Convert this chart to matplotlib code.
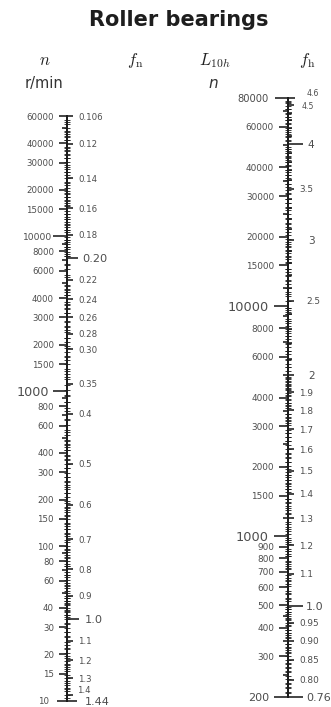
import matplotlib
matplotlib.use("Agg")
import matplotlib.pyplot as plt
import numpy as np

W, H, DPI = 331, 707, 100
PT = 72.0 / DPI  # points per pixel

# ---------------- data ----------------
title = "Roller bearings"

# left scale: speed n (r/min) and speed factor fn
n_range = (10, 60000)
fn_range = (1.44, 0.106)          # fn at bottom / top of the scale
n_ticks = [60000, 40000, 30000, 20000, 15000, 10000, 8000, 6000, 4000, 3000,
           2000, 1500, 1000, 800, 600, 400, 300, 200, 150, 100, 80, 60, 40,
           30, 20, 15, 10]
n_big = [10000, 1000]
n_mid = [50000, 9000, 7000, 5000, 900, 700, 500, 90, 70, 50]

fn_ticks = [0.106, 0.12, 0.14, 0.16, 0.18, 0.20, 0.22, 0.24, 0.26, 0.28, 0.30,
            0.35, 0.4, 0.5, 0.6, 0.7, 0.8, 0.9, 1.0, 1.1, 1.2, 1.3, 1.4, 1.44]
fn_labels = ["0.106", "0.12", "0.14", "0.16", "0.18", "0.20", "0.22", "0.24",
             "0.26", "0.28", "0.30", "0.35", "0.4", "0.5", "0.6", "0.7", "0.8",
             "0.9", "1.0", "1.1", "1.2", "1.3", "1.4", "1.44"]

# right scale: rating life L10h (h) and life factor fh
L_range = (200, 80000)
fh_range = (0.76, 4.6)
L_ticks = [80000, 60000, 40000, 30000, 20000, 15000, 10000, 8000, 6000, 4000,
           3000, 2000, 1500, 1000, 900, 800, 700, 600, 500, 400, 300, 200]
L_big = [10000, 1000]
L_mid = [70000, 50000, 35000, 25000, 12000, 9000, 7000, 5000, 3500, 2500,
         1200, 450, 350, 250]

fh_ticks = [4.6, 4.5, 4, 3.5, 3, 2.5, 2, 1.9, 1.8, 1.7, 1.6, 1.5, 1.4, 1.3,
            1.2, 1.1, 1.0, 0.95, 0.90, 0.85, 0.80, 0.76]
fh_labels = ["4.6", "4.5", "4", "3.5", "3", "2.5", "2", "1.9", "1.8", "1.7",
             "1.6", "1.5", "1.4", "1.3", "1.2", "1.1", "1.0", "0.95", "0.90",
             "0.85", "0.80", "0.76"]
fh_mid = [4.4, 4.3, 4.2, 4.1, 3.9, 3.8, 3.7, 3.6, 3.4, 3.3, 3.2, 3.1,
          2.9, 2.8, 2.7, 2.6, 2.4, 2.3, 2.2, 2.1]


def graduation(segments, lo, hi):
    out = []
    for a, b, s in segments:
        out.extend(np.arange(a, b + s / 2, s))
    out = np.unique(np.round(out, 6))
    return out[(out > lo) & (out < hi)]


decades = (10, 100, 1000, 10000)
n_minor = graduation([(d * 1, d * 2, d * 0.1) for d in decades] +
                     [(d * 2, d * 5, d * 0.2) for d in decades] +
                     [(d * 5, d * 10, d * 0.5) for d in decades], *n_range)
fn_minor = graduation([(0.106, 0.2, 0.002), (0.2, 0.3, 0.005), (0.3, 0.5, 0.01),
                       (0.5, 1.0, 0.01), (1.0, 1.44, 0.02)], 0.106, 1.44)
L_minor = graduation([(200, 500, 10), (500, 1000, 20), (1000, 2000, 50),
                      (2000, 5000, 100), (5000, 10000, 200), (10000, 20000, 500),
                      (20000, 50000, 1000), (50000, 80000, 2000)], *L_range)
fh_minor = graduation([(0.76, 1.0, 0.01), (1.0, 2.0, 0.02), (2.0, 4.6, 0.05)],
                      *fh_range)

# ---------------- styling ----------------
plt.rcParams["font.family"] = ["DejaVu Sans"]
plt.rcParams["mathtext.fontset"] = "cm"
TXT = "#4d4d4d"
INK = "#1c1c1c"

fig = plt.figure(figsize=(W / DPI, H / DPI), dpi=DPI)
fig.patch.set_facecolor("white")


def fx(px):
    return px / W


def fy(py):
    return 1 - py / H


def base_axes(x_px, top_px, bot_px, rng):
    ax = fig.add_axes([fx(x_px), fy(bot_px), 0.0001, (bot_px - top_px) / H])
    ax.set_facecolor("none")
    ax.set_yscale("log")
    ax.set_ylim(*rng)
    ax.xaxis.set_visible(False)
    for s in ("top", "bottom", "right"):
        ax.spines[s].set_visible(False)
    ax.spines["left"].set_linewidth(2.0 * PT)
    ax.spines["left"].set_color(INK)
    return ax


def twin_axes(ax, rng):
    tw = ax.twinx()
    tw.set_facecolor("none")
    tw.set_yscale("log")
    tw.set_ylim(*rng)
    for s in tw.spines.values():
        s.set_visible(False)
    return tw


def set_scale(ax, side, vals, labels, style, minor):
    ax.set_yticks(vals, labels)
    if minor is not None:
        ax.set_yticks(minor, minor=True)
        ax.yaxis.set_minor_formatter(plt.NullFormatter())
        ax.tick_params(axis="y", which="minor", direction="inout",
                       length=5.5 * PT, width=0.85 * PT, color=INK)
    else:
        ax.yaxis.set_minor_locator(plt.NullLocator())
    ax.tick_params(axis="y", which="major", direction="out", length=8 * PT,
                   width=1.6 * PT, color=INK, labelcolor=TXT, labelsize=6.2,
                   pad=3)
    ticks = ax.yaxis.get_major_ticks(len(vals))
    for t, v, lab in zip(ticks, vals, labels):
        ln, fs, pad, va = style(v, lab)
        if side == "left":
            line, text = t.tick1line, t.label1
            trans = ax.get_yaxis_text1_transform((ln + pad) * PT)[0]
        else:
            line, text = t.tick2line, t.label2
            trans = ax.get_yaxis_text2_transform((ln + pad) * PT)[0]
        line.set_markersize(ln * PT)
        if lab:
            text.set_fontsize(fs)
            text.set_transform(trans)
            text.set_va(va)


CB = "center_baseline"


def n_style(v, lab):
    if not lab:
        return 5, 6, 3, CB
    if v == 1000:
        return 14, 9.2, 4, CB
    if v == 10000:
        return 14, 6.6, 1, CB
    if v == 10:
        return 10, 6.2, 8, CB
    return 8, 6.2, 5, CB


def fn_style(v, lab):
    if lab == "0.20":
        return 11, 8.2, 4, CB
    if lab == "1.0":
        return 12, 8.2, 6, CB
    if lab == "1.44":
        return 10, 8.0, 8, CB
    if lab == "1.4":
        return 6, 6.2, 4, "bottom"
    return 6, 6.2, 5, CB


def L_style(v, lab):
    if not lab:
        return 5, 6, 3, CB
    if v in L_big:
        return 14, 9.3, 5, CB
    if v == 80000:
        return 13, 7.2, 6, CB
    if v == 200:
        return 14, 8.0, 5, CB
    return 9, 6.4, 5, CB


def fh_style(v, lab):
    if lab in ("1.0", "0.76"):
        return 15, 8.0, 3, CB
    if lab == "4":
        return 15, 7.6, 4, CB
    if lab in ("3", "2"):
        return 6, 7.6, 14, CB
    if lab == "2.5":
        return 6, 6.4, 12, CB
    if lab == "4.6":
        return 7, 5.6, 12, "bottom"
    if lab == "4.5":
        return 6, 5.6, 8, CB
    return 6, 6.4, 5, CB


def mid_style(v, lab):
    return 4, 6, 3, CB


# left nomogram
n_all = sorted(set(n_ticks) | set(n_mid), reverse=True)
n_all_labels = [str(v) if v in n_ticks else "" for v in n_all]
ax1 = base_axes(67, 116, 701, n_range)
tw1 = twin_axes(ax1, fn_range)
set_scale(ax1, "left", n_all, n_all_labels, n_style, n_minor)
set_scale(tw1, "right", fn_ticks, fn_labels, fn_style, fn_minor)

# right nomogram
L_all = sorted(set(L_ticks) | set(L_mid), reverse=True)
L_all_labels = [str(v) if v in L_ticks else "" for v in L_all]
ax2 = base_axes(288, 98, 697, L_range)
tw2 = twin_axes(ax2, fh_range)
tw2b = twin_axes(ax2, fh_range)
set_scale(ax2, "left", L_all, L_all_labels, L_style, L_minor)
set_scale(tw2, "right", fh_ticks, fh_labels, fh_style, fh_minor)
set_scale(tw2b, "right", fh_mid, [""] * len(fh_mid), mid_style, None)

# ---------------- headers ----------------
fig.text(fx(179), fy(20), title, ha="center", va="center", fontsize=15,
         fontweight="bold", color="#1e1e1e")
hdr = dict(ha="center", va="baseline", fontsize=12, color="#222222")
fig.text(fx(45), fy(65), r"$n$", **hdr)
fig.text(fx(135), fy(65), r"$f_{\rm n}$", **hdr)
fig.text(fx(215), fy(65), r"$L_{10h}$", **hdr)
fig.text(fx(307), fy(65), r"$f_{\rm h}$", **hdr)
fig.text(fx(44), fy(88), "r/min", ha="center", va="baseline", fontsize=10.5,
         color="#333333")
fig.text(fx(213), fy(88), "n", ha="center", va="baseline", fontsize=11,
         style="italic", color="#333333")

fig.savefig("out.png", dpi=DPI)
